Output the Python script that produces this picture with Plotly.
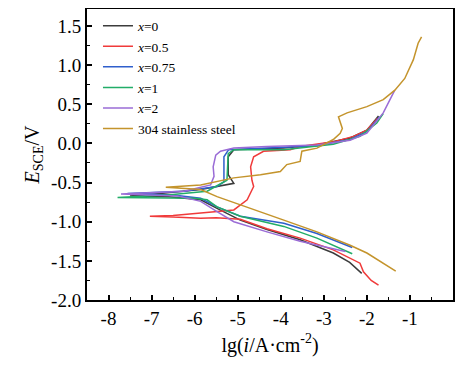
import plotly.graph_objects as go

# --- data (lg i, E) ---
x0_lgi = [-2.12, -2.40, -2.78, -3.55, -4.32, -4.94, -5.48, -5.86, -6.6, -7.5, -6.8, -5.86, -5.09, -5.22, -5.22, -5.09, -3.93, -3.16, -2.39, -2.00, -1.73]
x0_E   = [-1.66, -1.52, -1.40, -1.23, -1.10, -0.98, -0.83, -0.72, -0.68, -0.67, -0.64, -0.59, -0.51, -0.40, -0.17, -0.08, -0.06, -0.02, 0.07, 0.17, 0.35]

x05_lgi = [-1.73, -1.90, -2.08, -2.16, -2.78, -3.55, -4.32, -4.94, -5.5, -5.86, -6.5, -7.04, -6.5, -5.86, -5.09, -4.78, -4.63, -4.67, -4.70, -4.63, -4.40, -3.78, -3.55, -2.78, -2.31, -2.00, -1.75]
x05_E   = [-1.81, -1.75, -1.64, -1.53, -1.36, -1.21, -1.09, -0.97, -0.95, -0.955, -0.94, -0.93, -0.92, -0.89, -0.85, -0.72, -0.55, -0.47, -0.30, -0.17, -0.10, -0.08, -0.04, 0.02, 0.09, 0.17, 0.32]

x075_lgi = [-2.34, -3.16, -3.93, -4.94, -5.48, -5.86, -6.5, -7.56, -6.25, -5.48, -5.32, -5.32, -5.21, -4.32, -3.16, -2.39, -2.00, -1.70]
x075_E   = [-1.33, -1.15, -1.02, -0.93, -0.81, -0.70, -0.66, -0.64, -0.61, -0.55, -0.49, -0.17, -0.08, -0.06, -0.03, 0.05, 0.15, 0.34]

x1_lgi = [-2.34, -3.16, -3.93, -4.94, -5.48, -5.71, -6.0, -7.0, -7.79, -6.63, -5.71, -5.25, -5.22, -5.09, -3.93, -2.78, -2.16, -1.77, -1.62]
x1_E   = [-1.41, -1.21, -1.06, -0.93, -0.81, -0.72, -0.70, -0.69, -0.69, -0.66, -0.61, -0.47, -0.13, -0.08, -0.08, -0.01, 0.09, 0.26, 0.38]

x2_lgi = [-2.50, -3.55, -4.32, -5.09, -5.48, -5.86, -6.4, -7.71, -6.25, -5.63, -5.55, -5.57, -5.51, -5.40, -5.09, -4.32, -3.16, -2.39, -2.00, -1.62, -1.39, -1.35]
x2_E   = [-1.38, -1.25, -1.13, -1.00, -0.87, -0.74, -0.67, -0.645, -0.61, -0.53, -0.42, -0.30, -0.15, -0.10, -0.06, -0.04, -0.02, 0.04, 0.13, 0.39, 0.64, 0.68]

ss_lgi = [-1.33, -1.62, -2.00, -2.39, -3.16, -3.93, -4.71, -5.48, -5.86, -6.67, -5.86, -5.09, -4.47, -4.01, -3.86, -3.55, -3.51, -3.16, -2.78, -2.62, -2.57, -2.62, -2.66, -2.46, -2.00, -1.62, -1.35, -1.12, -0.92, -0.81, -0.73]
ss_E   = [-1.63, -1.53, -1.40, -1.30, -1.13, -0.98, -0.83, -0.68, -0.59, -0.56, -0.53, -0.44, -0.40, -0.36, -0.27, -0.23, -0.10, -0.06, 0.05, 0.13, 0.19, 0.28, 0.34, 0.39, 0.47, 0.56, 0.68, 0.83, 1.07, 1.28, 1.36]

series_names = ["<i>x</i>=0", "<i>x</i>=0.5", "<i>x</i>=0.75", "<i>x</i>=1", "<i>x</i>=2", "304 stainless steel"]
series_x = [x0_lgi, x05_lgi, x075_lgi, x1_lgi, x2_lgi, ss_lgi]
series_y = [x0_E, x05_E, x075_E, x1_E, x2_E, ss_E]
colors = ["#3c3c3c", "#f03a3a", "#2f5fcc", "#22ad68", "#9a6cd6", "#c4942c"]

x_tickvals = [-8, -7, -6, -5, -4, -3, -2, -1, 0]
x_ticktext = ["-8", "-7", "-6", "-5", "-4", "-3", "-2", "-1", "0"]
y_tickvals = [1.5, 1.0, 0.5, 0.0, -0.5, -1.0, -1.5, -2.0]
y_ticktext = ["1.5", "1.0", "0.5", "0.0", "-0.5", "-1.0", "-1.5", "-2.0"]

fig = go.Figure()
for name, xs, ys, c in zip(series_names, series_x, series_y, colors):
    fig.add_trace(go.Scatter(x=xs, y=ys, mode="lines", name=name,
                             line=dict(color=c, width=1.5)))

font_family = "Liberation Serif"
fig.update_layout(
    width=447, height=349,
    margin=dict(l=79, r=2, t=1, b=57, autoexpand=False),
    paper_bgcolor="white", plot_bgcolor="white",
    font=dict(family=font_family, size=19, color="black"),
    showlegend=True,
    legend=dict(x=0.03, y=0.995, xanchor="left", yanchor="top",
                bgcolor="rgba(0,0,0,0)", font=dict(family=font_family, size=13.5),
                tracegroupgap=0, itemwidth=30),
    xaxis=dict(range=[-8.5, 0], tickvals=x_tickvals, ticktext=x_ticktext,
               ticks="inside", ticklen=5, tickwidth=1.5, tickcolor="black",
               showline=True, linewidth=2, linecolor="black", mirror=True,
               showgrid=False, zeroline=False,
               tickfont=dict(family=font_family, size=19),
               minor=dict(ticks="inside", ticklen=3, tickwidth=1.2, dtick=0.5, tick0=0, tickcolor="black", showgrid=False),
               title=dict(text="lg(<i>i</i>/A·cm<sup>-2</sup>)", font=dict(family=font_family, size=20), standoff=10)),
    yaxis=dict(range=[-2.0, 1.717], tickvals=y_tickvals, ticktext=y_ticktext,
               ticks="inside", ticklen=5, tickwidth=1.5, tickcolor="black",
               showline=True, linewidth=2, linecolor="black", mirror=True,
               showgrid=False, zeroline=False,
               tickfont=dict(family=font_family, size=19),
               minor=dict(ticks="inside", ticklen=3, tickwidth=1.2, dtick=0.25, tick0=0, tickcolor="black", showgrid=False),
               title=dict(text="<i>E</i><sub>SCE</sub>/V", font=dict(family=font_family, size=20), standoff=6)),
)

fig.write_html("out.html")
